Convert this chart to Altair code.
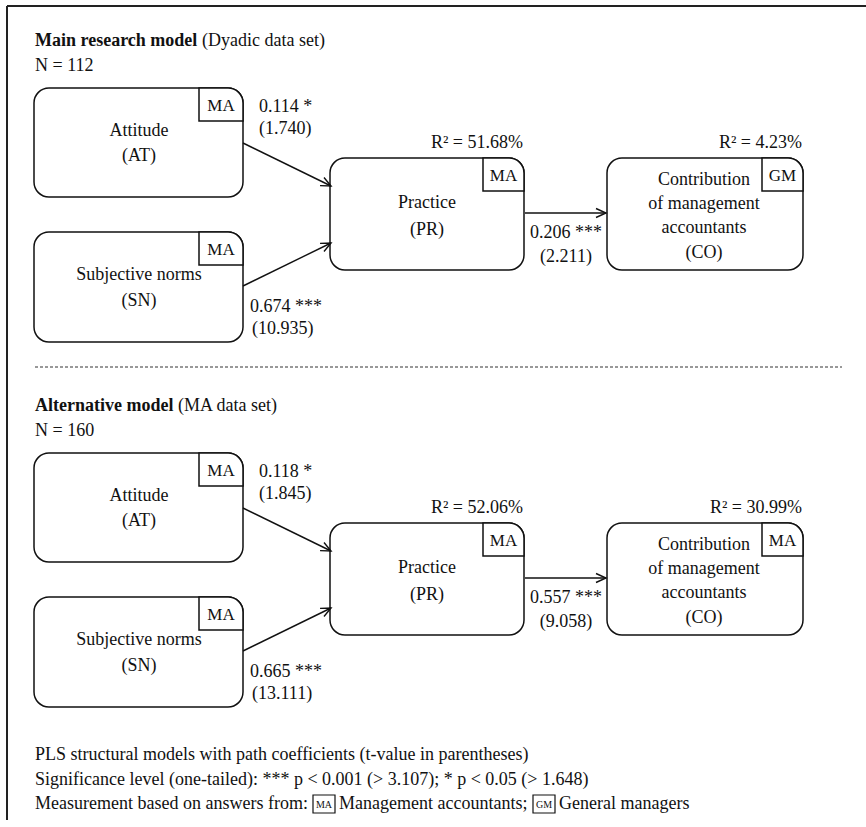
import math
import altair as alt
import pandas as pd

W, H = 866, 827
FONT = "Liberation Serif"

# ---------------- values ----------------
model_keys = ["main", "alt"]
title_bold = ["Main research model", "Alternative model"]
title_rest = ["(Dyadic data set)", "(MA data set)"]
sample_n = ["N = 112", "N = 160"]

node_ids = ["AT", "SN", "PR", "CO"]
node_lines = {
    "AT": ["Attitude", "(AT)"],
    "SN": ["Subjective norms", "(SN)"],
    "PR": ["Practice", "(PR)"],
    "CO": ["Contribution", "of management", "accountants", "(CO)"],
}
source_main = ["MA", "MA", "MA", "GM"]
source_alt = ["MA", "MA", "MA", "MA"]

path_from = ["AT", "SN", "PR"]
path_to = ["PR", "PR", "CO"]
coef_main = ["0.114 *", "0.674 ***", "0.206 ***"]
tval_main = ["(1.740)", "(10.935)", "(2.211)"]
coef_alt = ["0.118 *", "0.665 ***", "0.557 ***"]
tval_alt = ["(1.845)", "(13.111)", "(9.058)"]

r2_nodes = ["PR", "CO"]
r2_main = ["51.68%", "4.23%"]
r2_alt = ["52.06%", "30.99%"]

footer_1 = "PLS structural models with path coefficients (t-value in parentheses)"
footer_2 = "Significance level (one-tailed): *** p < 0.001 (> 3.107); * p < 0.05 (> 1.648)"
footer_3 = ["Measurement based on answers from:", "Management accountants;", "General managers"]
footer_tags = ["MA", "GM"]

# ---------------- layout (pixel positions of the diagram) ----------------
MODEL_DY = {"main": 0, "alt": 365}
TITLE_Y, N_Y, TITLE_X, REST_X = {"main": 41, "alt": 41}, 66, 35, {"main": 202, "alt": 178}
BOX = {"AT": (34, 243, 88, 197), "SN": (34, 243, 232, 342),
       "PR": (330, 524, 158, 270), "CO": (607, 803, 158, 270)}
TAG_W = {"AT": 44, "SN": 44, "PR": 41, "CO": 41}
TAG_H = 33
LABEL_POS = {"AT": (139, [131, 156]), "SN": (139, [275, 301]),
             "PR": (427, [203, 230]), "CO": (704, [180, 204, 228, 253])}
EDGE = {("AT", "PR"): ((243, 143), (331, 186)),
        ("SN", "PR"): ((243, 286), (331, 243)),
        ("PR", "CO"): ((525, 213), (606, 213))}
COEF_POS = {("AT", "PR"): (259, 107, 129, "left"),
            ("SN", "PR"): (250, 307, 329, "left"),
            ("PR", "CO"): (566, 233, 257, "center")}
R2_Y = 143
DASH_Y, DASH_X = 367, (35, 842)
FOOT_X, FOOT_Y = 35, [755, 780, 804]
FOOT3_X = [35, 339, 559]
FOOT_TAG_X = [(313, 335), (533, 555)]

# ---------------- build tables ----------------
boxes, tags, rules, heads = [], [], [], []
t_center, t_left, t_right, t_bold, t_tag = [], [], [], [], []

for mi, m in enumerate(model_keys):
    dy = MODEL_DY[m]
    t_bold.append(dict(x=TITLE_X, y=TITLE_Y[m] + dy, text=title_bold[mi]))
    t_left.append(dict(x=REST_X[m], y=TITLE_Y[m] + dy, text=title_rest[mi]))
    t_left.append(dict(x=TITLE_X, y=N_Y + dy, text=sample_n[mi]))
    src = source_main if m == "main" else source_alt
    for ni, n in enumerate(node_ids):
        x1, x2, y1, y2 = BOX[n]
        boxes.append(dict(x=x1, x2=x2, y=y1 + dy, y2=y2 + dy))
        tags.append(dict(x=x2 - TAG_W[n], x2=x2, y=y1 + dy, y2=y1 + dy + TAG_H))
        t_tag.append(dict(x=x2 - TAG_W[n] / 2, y=y1 + dy + TAG_H / 2 + 1, text=src[ni]))
        cx, ys = LABEL_POS[n]
        for line, ly in zip(node_lines[n], ys):
            t_center.append(dict(x=cx, y=ly + dy, text=line))
    coefs = coef_main if m == "main" else coef_alt
    tvals = tval_main if m == "main" else tval_alt
    for pi, (a, b) in enumerate(zip(path_from, path_to)):
        (sx, sy), (ex, ey) = EDGE[(a, b)]
        rules.append(dict(x=sx, y=sy + dy, x2=ex, y2=ey + dy))
        ang = math.degrees(math.atan2(ey - sy, ex - sx)) % 360
        heads.append(dict(x=ex, y=ey + dy, angle=ang))
        px, py1, py2, al = COEF_POS[(a, b)]
        target = t_left if al == "left" else t_center
        target.append(dict(x=px, y=py1 + dy, text=coefs[pi]))
        target.append(dict(x=px + (2 if al == "left" and pi == 1 else 0), y=py2 + dy, text=tvals[pi]))
    r2v = r2_main if m == "main" else r2_alt
    for ri, n in enumerate(r2_nodes):
        t_right.append(dict(x=BOX[n][1] - 1, y=R2_Y + dy, text="R² = " + r2v[ri]))

t_left.append(dict(x=FOOT_X, y=FOOT_Y[0], text=footer_1))
t_left.append(dict(x=FOOT_X, y=FOOT_Y[1], text=footer_2))
for s, fx in zip(footer_3, FOOT3_X):
    t_left.append(dict(x=fx, y=FOOT_Y[2], text=s))
foot_boxes = []
foot_tag_text = []
for tg, (a, b) in zip(footer_tags, FOOT_TAG_X):
    foot_boxes.append(dict(x=a, x2=b, y=FOOT_Y[2] - 9, y2=FOOT_Y[2] + 9))
    foot_tag_text.append(dict(x=(a + b) / 2, y=FOOT_Y[2] + 1, text=tg))

frame = pd.DataFrame([dict(x=7, y=6, x2=866, y2=6), dict(x=7, y=6, x2=7, y2=820)])
dash = pd.DataFrame([dict(x=DASH_X[0], y=DASH_Y, x2=DASH_X[1], y2=DASH_Y)])

X = alt.X("x:Q", scale=alt.Scale(domain=[0, W], nice=False, zero=False), axis=None)
Y = alt.Y("y:Q", scale=alt.Scale(domain=[0, H], nice=False, zero=False, reverse=True), axis=None)


def seg_layer(df, **kw):
    return alt.Chart(df).mark_rule(**kw).encode(x=X, y=Y, x2="x2:Q", y2="y2:Q")


def rect_layer(df, **kw):
    return alt.Chart(df).mark_rect(**kw).encode(x=X, y=Y, x2="x2:Q", y2="y2:Q")


def text_layer(df, **kw):
    base = dict(font=FONT, fontSize=18, color="#111", baseline="middle")
    base.update(kw)
    return alt.Chart(df).mark_text(**base).encode(x=X, y=Y, text="text:N")


layers = [
    seg_layer(frame, color="#222", strokeWidth=2),
    seg_layer(dash, color="#333", strokeWidth=1, strokeDash=[3, 2]),
    rect_layer(pd.DataFrame(boxes), fill="white", stroke="#111", strokeWidth=1.5, cornerRadius=15),
    rect_layer(pd.DataFrame(tags), fill="white", stroke="#111", strokeWidth=1.5, cornerRadiusTopRight=15),
    seg_layer(pd.DataFrame(rules), color="#111", strokeWidth=1.4),
    alt.Chart(pd.DataFrame(heads)).mark_point(
        shape="M -1 -0.45 L 0 0 L -1 0.45", filled=False, stroke="#111", strokeWidth=1.4, size=400, opacity=1
    ).encode(x=X, y=Y, angle=alt.Angle("angle:Q", scale=None)),
    rect_layer(pd.DataFrame(foot_boxes), fill="white", stroke="#111", strokeWidth=1.2),
    text_layer(pd.DataFrame(t_center), align="center"),
    text_layer(pd.DataFrame(t_left), align="left"),
    text_layer(pd.DataFrame(t_right), align="right"),
    text_layer(pd.DataFrame(t_bold), align="left", fontWeight="bold"),
    text_layer(pd.DataFrame(t_tag), align="center", fontSize=17),
    text_layer(pd.DataFrame(foot_tag_text), align="center", fontSize=10),
]

chart = alt.layer(*layers).properties(
    width=W, height=H, padding=0, autosize=alt.AutoSizeParams(type="none"),
    background="white",
).configure_view(stroke=None)

chart.save("out.html", embed_options={"renderer": "svg", "actions": False})
